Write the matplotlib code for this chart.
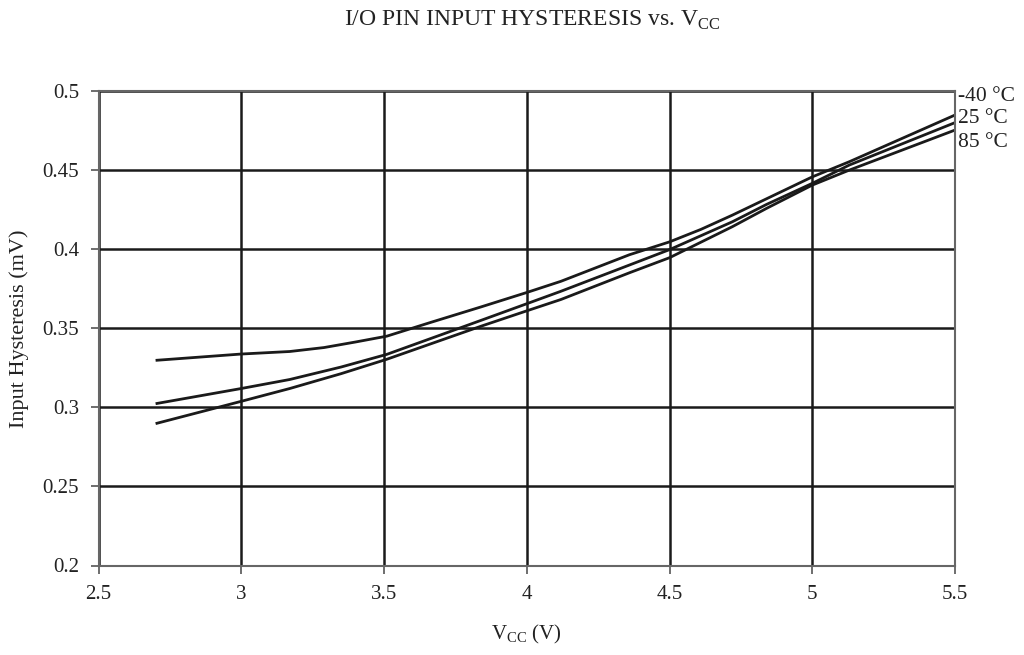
import matplotlib.pyplot as plt

plt.rcParams["font.family"] = ["Liberation Serif", "DejaVu Serif"]

# supply voltage (V) and input hysteresis for each temperature
vcc_m40 = [2.7, 3.0, 3.17, 3.29, 3.4, 3.51, 3.66, 3.84, 4.0, 4.12, 4.36, 4.5,
           4.61, 4.72, 5.0, 5.13, 5.5]
hyst_m40 = [0.3297, 0.3337, 0.3353, 0.3378, 0.3413, 0.3450, 0.3535, 0.3635,
            0.3726, 0.3797, 0.3965, 0.4046, 0.4125, 0.4215, 0.4457, 0.4553,
            0.4848]

vcc_25 = [2.7, 3.0, 3.17, 3.35, 3.51, 3.84, 4.0, 4.12, 4.36, 4.5, 4.72, 4.84,
          5.0, 5.13, 5.5]
hyst_25 = [0.3023, 0.3119, 0.3176, 0.3255, 0.3335, 0.3550, 0.3655, 0.3734,
           0.3900, 0.3997, 0.4173, 0.4283, 0.4416, 0.4532, 0.4800]

vcc_85 = [2.7, 3.0, 3.17, 3.35, 3.51, 3.84, 4.0, 4.12, 4.36, 4.5, 4.72, 4.84,
          5.0, 5.13, 5.5]
hyst_85 = [0.2897, 0.3038, 0.3119, 0.3213, 0.3304, 0.3513, 0.3610, 0.3682,
           0.3851, 0.3946, 0.4142, 0.4258, 0.4405, 0.4500, 0.4753]

series_labels = ["-40 °C", "25 °C", "85 °C"]
label_y = [0.4965, 0.4825, 0.4675]

x_ticks = [2.5, 3, 3.5, 4, 4.5, 5, 5.5]
y_ticks = [0.2, 0.25, 0.3, 0.35, 0.4, 0.45, 0.5]

text_color = "#222222"

fig = plt.figure(figsize=(10.24, 6.55), dpi=100)
ax = fig.add_axes([98.5 / 1024, 1 - 565.5 / 655,
                   (955 - 98.5) / 1024, (565.5 - 91) / 655])

for xs, ys in [(vcc_m40, hyst_m40), (vcc_25, hyst_25), (vcc_85, hyst_85)]:
    ax.plot(xs, ys, color="#1a1a1a", lw=2.0, solid_capstyle="butt")

ax.set_xlim(2.5, 5.5)
ax.set_ylim(0.2, 0.5)
ax.set_xticks(x_ticks)
ax.set_xticklabels([f"{v:g}" for v in x_ticks])
ax.set_yticks(y_ticks)
ax.set_yticklabels([f"{v:g}" for v in y_ticks])
ax.grid(True, color="#1a1a1a", lw=1.8)
ax.set_axisbelow(True)
for spine in ax.spines.values():
    spine.set_color("#666666")
    spine.set_linewidth(1.5)
ax.tick_params(direction="out", length=6, width=1.2, color="#555555",
               labelsize=15, colors=text_color, pad=8)

# curve names beside the right edge
for label, yv in zip(series_labels, label_y):
    ax.text(5.51, yv, label, fontsize=15.5, color=text_color,
            va="center", ha="left", clip_on=False)

ax.set_xlabel("V$_{\\mathregular{CC}}$ (V)", fontsize=15, color=text_color,
              labelpad=14)
ax.set_ylabel("Input Hysteresis (mV)", fontsize=16, color=text_color,
              labelpad=10)
fig.text(0.52, 1 - 20 / 655,
         "I/O PIN INPUT HYSTERESIS vs. V$_{\\mathregular{CC}}$",
         ha="center", va="center", fontsize=17, color=text_color)

fig.savefig("out.png", dpi=100)
